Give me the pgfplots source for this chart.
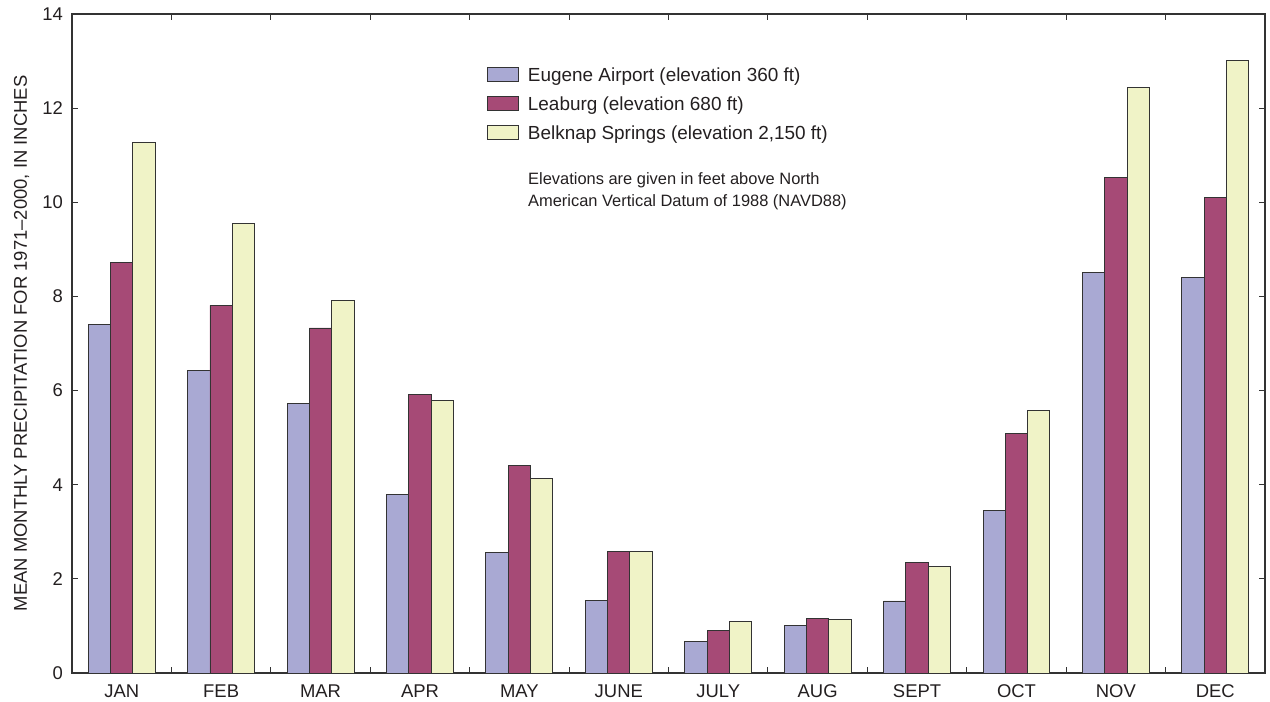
\documentclass[border=0pt]{standalone}
\usepackage{pgfplots}
\pgfplotsset{compat=1.18}
\usepackage{fontspec}
\setmainfont{Liberation Sans}
\definecolor{cEug}{HTML}{A9A9D3}
\definecolor{cLea}{HTML}{A64A76}
\definecolor{cBel}{HTML}{F0F3C7}
\definecolor{cAx}{HTML}{333333}
\definecolor{cTx}{HTML}{231F20}
\begin{document}
\begin{tikzpicture}
\begin{axis}[
  scale only axis,
  width=1193bp, height=659bp,
  xmin=-0.5, xmax=11.5,
  ymin=0, ymax=14,
  ybar=0pt, bar width=22.3bp,
  axis line style={cAx, line width=1.3bp},
  xtick={0,...,11},
  xticklabels={JAN,FEB,MAR,APR,MAY,JUNE,JULY,AUG,SEPT,OCT,NOV,DEC},
  major x tick style={draw=none},
  minor xtick={0.5,1.5,...,10.5},
  minor tick length=6bp,
  major tick length=6bp,
  tick align=inside,
  tick pos=both,
  tick style={cAx, line width=1bp},
  ytick={0,2,...,14},
  /pgf/number format/assume math mode=true,
  ticklabel style={font=\fontsize{18.5}{20}\selectfont, text=cTx},
  xticklabel style={inner sep=0pt, text height=14bp, anchor=north, yshift=-10.5bp},
  yticklabel style={inner sep=0pt, anchor=east, xshift=-9bp},
  ylabel={MEAN MONTHLY PRECIPITATION FOR 1971\textendash2000, IN INCHES},
  ylabel style={font=\fontsize{18.5}{20}\selectfont, text=cTx, at={(axis description cs:-0.04233,0.5)}, anchor=center, inner sep=0pt},
  legend style={at={(rel axis cs:0.3479,0.9196)}, anchor=north west, draw=none, fill=none,
    inner sep=0pt, outer sep=0pt, row sep=10.5bp, column sep=9bp,
    nodes={inner sep=0pt, text height=14bp, text depth=4bp, anchor=base west, text=cTx},
    font=\fontsize{19}{22}\selectfont},
  legend cell align=left,
  legend image code/.code={\draw[#1, draw=cAx, line width=0.9bp] (0bp,0bp) rectangle (31bp,14bp);},
]
\addplot[fill=cEug, draw=cAx, line width=0.9bp] coordinates {
(0,7.41) (1,6.43) (2,5.73) (3,3.80) (4,2.57) (5,1.55) (6,0.66) (7,1.00) (8,1.53) (9,3.46) (10,8.50) (11,8.41)};
\addplot[fill=cLea, draw=cAx, line width=0.9bp] coordinates {
(0,8.73) (1,7.81) (2,7.33) (3,5.91) (4,4.40) (5,2.59) (6,0.91) (7,1.15) (8,2.34) (9,5.08) (10,10.52) (11,10.10)};
\addplot[fill=cBel, draw=cAx, line width=0.9bp] coordinates {
(0,11.28) (1,9.54) (2,7.92) (3,5.79) (4,4.14) (5,2.58) (6,1.10) (7,1.13) (8,2.27) (9,5.57) (10,12.43) (11,13.02)};
\legend{{Eugene Airport (elevation 360 ft)}, {Leaburg (elevation 680 ft)}, {Belknap Springs (elevation 2,150 ft)}}
\node[anchor=base west, inner sep=0pt, text=cTx, font=\fontsize{16.5}{20}\selectfont] at (rel axis cs:0.3822,0.7412) {Elevations are given in feet above North};
\node[anchor=base west, inner sep=0pt, text=cTx, font=\fontsize{16.5}{20}\selectfont] at (rel axis cs:0.3822,0.7079) {American Vertical Datum of 1988 (NAVD88)};
\end{axis}
\pgfresetboundingbox
\path[use as bounding box] (-72bp,-29bp) rectangle (1198bp,673bp);
\end{tikzpicture}
\end{document}
